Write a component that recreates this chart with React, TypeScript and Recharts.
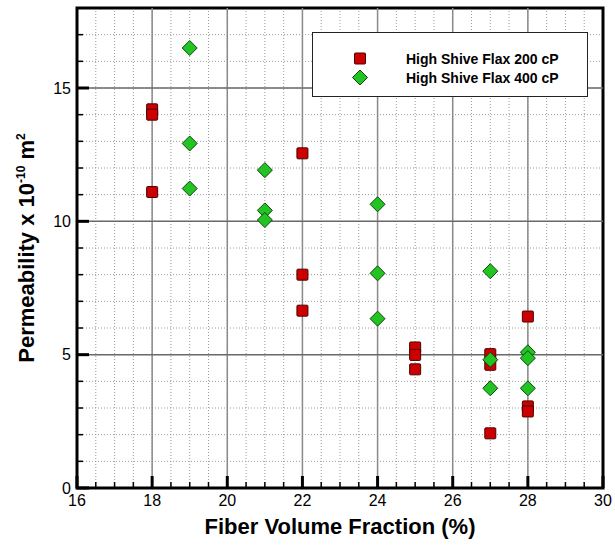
import { CartesianGrid, Legend, ReferenceArea, ReferenceLine, Scatter, ScatterChart, XAxis, YAxis } from "recharts";

// Fiber volume fraction (%) and permeability (x 10^-10 m^2) per measurement
const fv200 = [18, 18, 18, 22, 22, 22, 25, 25, 25, 27, 27, 27, 28, 28, 28];
const perm200 = [14.2, 14.0, 11.1, 12.55, 8.0, 6.65, 5.27, 4.99, 4.45, 5.02, 4.62, 2.05, 6.43, 3.06, 2.87];

const fv400 = [19, 19, 19, 21, 21, 21, 24, 24, 24, 27, 27, 27, 28, 28, 28];
const perm400 = [16.5, 12.92, 11.23, 11.92, 10.41, 10.05, 10.64, 8.05, 6.35, 8.13, 4.81, 3.74, 5.09, 4.87, 3.74];

const X_TICKS = [16, 16.5, 17, 17.5, 18, 18.5, 19, 19.5, 20, 20.5, 21, 21.5, 22, 22.5, 23, 23.5, 24, 24.5, 25, 25.5, 26, 26.5, 27, 27.5, 28, 28.5, 29, 29.5, 30];
const X_MAJOR = [18, 20, 22, 24, 26, 28];
const Y_TICKS = [0, 1, 2, 3, 4, 5, 6, 7, 8, 9, 10, 11, 12, 13, 14, 15, 16, 17, 18];
const Y_MAJOR = [5, 10, 15];

const toPoints = (xs: number[], ys: number[]) => xs.map((x, i) => ({ fv: x, perm: ys[i] }));

const FONT = "'Liberation Sans', Arial, sans-serif";

const Square = ({ cx, cy }: any) => (
  <rect x={cx - 5.5} y={cy - 5.5} width={11} height={11} rx={1} fill="#cc0000" stroke="#4a0000" strokeWidth={1} />
);

const Diamond = ({ cx, cy }: any) => (
  <polygon
    points={`${cx},${cy - 7.5} ${cx + 7.5},${cy} ${cx},${cy + 7.5} ${cx - 7.5},${cy}`}
    fill="#22c322"
    stroke="#0b4a0b"
    strokeWidth={1}
  />
);

const SERIES = [
  { name: "High Shive Flax 200 cP", data: toPoints(fv200, perm200), shape: Square, color: "#cc0000" },
  { name: "High Shive Flax 400 cP", data: toPoints(fv400, perm400), shape: Diamond, color: "#22c322" },
];

// ticks point into the plot; only the even percentages get a label
const XTick = ({ x, y, payload }: any) => {
  const v = payload.value;
  const major = v % 2 === 0;
  return (
    <g>
      <line x1={x} x2={x} y1={y} y2={y - (major ? 12 : 6)} stroke="#000" strokeWidth={major ? 3 : 1.5} />
      {major && (
        <text x={x} y={y + 18} textAnchor="middle" fontSize={16} fontFamily={FONT} fill="#000">
          {v}
        </text>
      )}
    </g>
  );
};

const YTick = ({ x, y, payload }: any) => {
  const v = payload.value;
  const major = v % 5 === 0;
  return (
    <g>
      <line x1={x} x2={x + (major ? 12 : 6)} y1={y} y2={y} stroke="#000" strokeWidth={major ? 3 : 1.5} />
      {major && (
        <text x={x - 6} y={y} dy="0.35em" textAnchor="end" fontSize={16} fontFamily={FONT} fill="#000">
          {v}
        </text>
      )}
    </g>
  );
};

const XTitle = ({ viewBox }: any) => (
  <text
    x={viewBox.x + viewBox.width / 2}
    y={viewBox.y + 46}
    textAnchor="middle"
    fontSize={22}
    fontWeight="bold"
    fontFamily={FONT}
    fill="#000"
  >
    Fiber Volume Fraction (%)
  </text>
);

const YTitle = ({ viewBox }: any) => {
  const cx = viewBox.x + 34;
  const cy = viewBox.y + viewBox.height / 2;
  return (
    <text
      x={cx}
      y={cy}
      transform={`rotate(-90 ${cx} ${cy})`}
      textAnchor="middle"
      fontSize={22}
      fontWeight="bold"
      fontFamily={FONT}
      fill="#000"
    >
      Permeability x 10
      <tspan fontSize={12} dy={-9}>-10</tspan>
      <tspan dy={9}> m</tspan>
      <tspan fontSize={12} dy={-9}>2</tspan>
    </text>
  );
};

const LegendBox = ({ payload }: any) => (
  <div
    style={{
      width: 276,
      height: 65,
      boxSizing: "border-box",
      border: "1.5px solid #222",
      background: "#fff",
      paddingTop: 16,
      fontFamily: FONT,
    }}
  >
    {(payload ?? []).map((entry: any) => {
      const s = SERIES.find((d) => d.name === entry.value);
      const Shape = s ? s.shape : Square;
      return (
        <div key={entry.value} style={{ display: "flex", alignItems: "center", height: 19 }}>
          <svg width={93} height={19} style={{ flex: "none" }}>
            <Shape cx={47} cy={9.5} />
          </svg>
          <span style={{ fontSize: 14, fontWeight: "bold", color: "#000", whiteSpace: "nowrap" }}>{entry.value}</span>
        </div>
      );
    })}
  </div>
);

export default function App() {
  return (
    <div style={{ position: "absolute", left: 0, top: 0, width: 615, height: 548, background: "#fff" }}>
      <ScatterChart width={615} height={548} margin={{ top: 8, right: 12, bottom: 0, left: 0 }}>
        <CartesianGrid stroke="#9a9a9a" strokeWidth={1} strokeDasharray="1 2" />
        {X_MAJOR.map((v) => (
          <ReferenceLine key={`x${v}`} x={v} stroke="#8a8a8a" strokeWidth={1.5} />
        ))}
        {Y_MAJOR.map((v) => (
          <ReferenceLine key={`y${v}`} y={v} stroke="#6a6a6a" strokeWidth={1.5} />
        ))}
        <XAxis
          type="number"
          dataKey="fv"
          domain={[16, 30]}
          ticks={X_TICKS}
          interval={0}
          height={60}
          tickSize={0}
          tickMargin={0}
          tickLine={false}
          axisLine={false}
          tick={<XTick />}
          label={{ content: XTitle }}
        />
        <YAxis
          type="number"
          dataKey="perm"
          domain={[0, 18]}
          ticks={Y_TICKS}
          interval={0}
          width={77}
          tickSize={0}
          tickMargin={0}
          tickLine={false}
          axisLine={false}
          tick={<YTick />}
          label={{ content: YTitle }}
        />
        <ReferenceArea x1={16} x2={30} y1={0} y2={18} fill="none" stroke="#000" strokeWidth={3} />
        <Legend
          layout="vertical"
          align="center"
          verticalAlign="middle"
          content={<LegendBox />}
          wrapperStyle={{ position: "absolute", left: 312, top: 32, width: 276, height: 65 }}
        />
        {SERIES.map((s) => (
          <Scatter key={s.name} name={s.name} data={s.data} shape={s.shape} fill={s.color} isAnimationActive={false} />
        ))}
      </ScatterChart>
    </div>
  );
}
